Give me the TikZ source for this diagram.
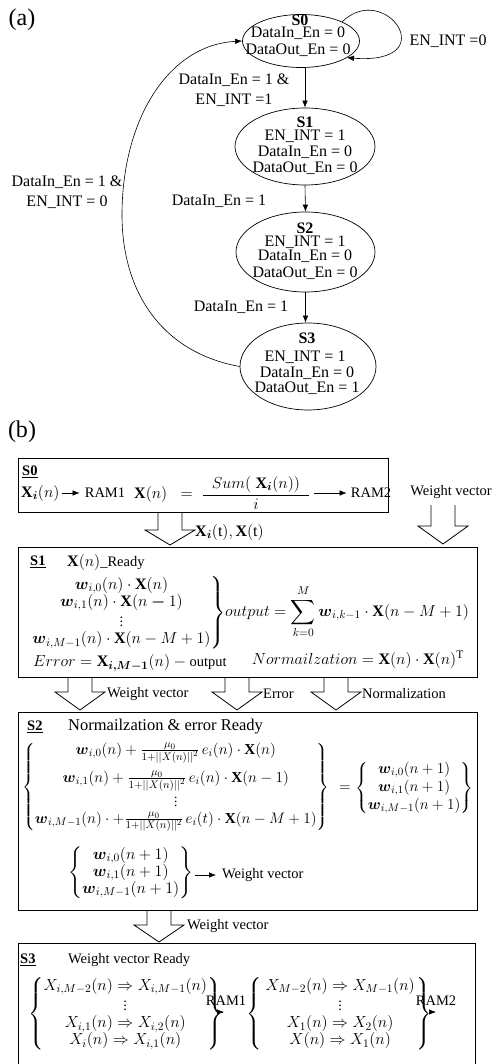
\RequirePackage{fix-cm}
\documentclass[tikz,border=0pt]{standalone}
\usepackage{amsmath}
\usepackage{fontspec}
\setmainfont{Liberation Serif}
\usetikzlibrary{shapes.geometric,arrows.meta,calc}
\DeclareMathSizes{14.5}{16}{11.5}{9}
\DeclareMathSizes{13.5}{15.2}{11}{8.5}
\newcommand{\blkarrow}[4]{\draw[line width=0.8pt] ({#1-12},#2) -- ({#1-12},#3) -- ({#1-25},#3) -- (#1,#4) -- ({#1+25},#3) -- ({#1+12},#3) -- ({#1+12},#2);}
\tikzset{
  ta/.style={font=\fontsize{16}{19}\selectfont, inner sep=0pt, text height=11pt, text depth=3pt},
  tatwo/.style={font=\fontsize{16}{20}\selectfont, inner sep=0pt, align=center},
  tb/.style={font=\fontsize{14.5}{17}\selectfont, inner sep=0pt},
  tbs/.style={font=\fontsize{13.5}{17}\selectfont, inner sep=0pt},
  state/.style={ellipse, draw, line width=0.7pt, inner sep=0pt},
  box/.style={draw, line width=0.8pt, inner sep=0pt},
  arr/.style={-{Latex[length=7pt,width=5.5pt]}, line width=0.6pt},
}
\begin{document}
\begin{tikzpicture}[x=1pt,y=-1pt]
\useasboundingbox (0,0) rectangle (499,1064);
% ---------------- (a)
\node[font=\fontsize{24}{28}\selectfont, inner sep=0pt] (la) at (22,20) {(a)};
\node[state, minimum width=117pt, minimum height=53pt] (s0) at (301,41) {};
\node[state, minimum width=140pt, minimum height=77pt] (s1) at (305,146.5) {};
\node[state, minimum width=139pt, minimum height=80pt] (s2) at (305.5,252) {};
\node[state, minimum width=136pt, minimum height=87pt] (s3) at (308,366.5) {};

\node[ta] (s0a) at (300,22) {\textbf{S0}};
\node[ta] (s0b) at (298,34) {DataIn\_En = 0};
\node[ta] (s0c) at (298,51) {DataOut\_En = 0};

\node[ta] (s1a) at (305,124) {\textbf{S1}};
\node[ta] (s1b) at (305,137) {EN\_INT = 1};
\node[ta] (s1c) at (305,153) {DataIn\_En = 0};
\node[ta] (s1d) at (305,169) {DataOut\_En = 0};

\node[ta] (s2a) at (305,230) {\textbf{S2}};
\node[ta] (s2b) at (305,243) {EN\_INT = 1};
\node[ta] (s2c) at (305,257) {DataIn\_En = 0};
\node[ta] (s2d) at (305,274) {DataOut\_En = 0};

\node[ta] (s3a) at (307,339) {\textbf{S3}};
\node[ta] (s3b) at (305,357) {EN\_INT = 1};
\node[ta] (s3c) at (307,373) {DataIn\_En = 0};
\node[ta] (s3d) at (307,388) {DataOut\_En = 1};

\draw[arr] (s1.north |- s0.south) -- (s1.north);
\draw[arr] (s1.south) -- (s2.north);
\draw[arr] (s2.south) -- (s2.south |- s3.north);
\draw[arr] (s3.west) .. controls (160,352) and (122,290) .. (122,215) .. controls (122,120) and (168,45) .. (s0.west);
\draw[arr] (s0.25) .. controls (385,-20) and (445,65) .. (s0.-20);

\node[tatwo] (l01) at (234,90) {DataIn\_En = 1 \&\\EN\_INT =1};
\node[ta] (l12) at (219,202) {DataIn\_En = 1};
\node[ta] (l23) at (241,307) {DataIn\_En = 1};
\node[tatwo] (l30) at (67,192) {DataIn\_En = 1 \&\\EN\_INT = 0};
\node[ta] (l00) at (448,42) {EN\_INT =0};

% ---------------- (b)
\node[font=\fontsize{24}{28}\selectfont, inner sep=0pt] (lb) at (22,432) {(b)};

\node[box, anchor=north west, minimum width=370pt, minimum height=54pt] (b0) at (18,458) {};
\node[box, anchor=north west, minimum width=459pt, minimum height=130pt] (b1) at (18,547) {};
\node[box, anchor=north west, minimum width=459pt, minimum height=198pt] (b2) at (18,712) {};
\node[box, anchor=north west, minimum width=457pt, minimum height=135pt] (b3) at (18,943) {};

% S0 box
\node[tb, anchor=west] (b0t) at (22,472) {\underline{\textbf{S0}}};
\node[tb, anchor=west] (xi) at (21,493) {$\mathbf{X}_{\boldsymbol{i}}(n)$};
\node[tb] (ram1) at (105,493) {RAM1};
\node[tb, anchor=west] (xeq) at (134,493) {$\mathbf{X}(n)\;\;=\;\dfrac{\hspace{9pt}Sum(\;\mathbf{X}_{\boldsymbol{i}}(n))\hspace{9pt}}{i}$};
\node[tb] (ram2) at (371,493) {RAM2};
\draw[arr, shorten <=2pt, shorten >=5pt] (xi) -- (ram1);
\draw[arr, shorten <=4pt, shorten >=4pt] (xeq) -- (ram2);
\node[tb] (wv0) at (451,492) {Weight vector};

\blkarrow{170}{512}{530}{545}
\node[tb, anchor=west] (xt) at (195,532) {$\mathbf{X}_{\boldsymbol{i}}(\mathrm{t}),\mathbf{X}(\mathrm{t})$};
\blkarrow{443}{505}{526}{544}

% S1 box
\node[tb, anchor=west] (b1t) at (30,562) {\underline{\textbf{S1}}};
\node[tb, anchor=west] (xr) at (67,562) {$\mathbf{X}(n)$\_Ready};
\node[tb, anchor=west] (s1m) at (31,613) {$\left.\begin{array}{@{}c@{}}
 \boldsymbol{w}_{i,0}(n)\cdot\mathbf{X}(n)\\
 \boldsymbol{w}_{i,1}(n)\cdot\mathbf{X}(n\boldsymbol{-}1)\\
 \vdots\\
 \boldsymbol{w}_{i,M-1}(n)\cdot\mathbf{X}(n-M+1)
 \end{array}\right\}$};
\node[tb, anchor=west] (outp) at (225,612) {$output = \displaystyle\sum_{k=0}^{M}\boldsymbol{w}_{i,k-1}\cdot\mathbf{X}(n-M+1)$};
\node[tb, anchor=west] (err) at (33,663) {$Error = \mathbf{X}_{\boldsymbol{i,M-1}}(n) - \text{output}$};
\node[tb, anchor=east] (nrm) at (464,660) {$Normailzation = \mathbf{X}(n)\cdot\mathbf{X}(n)^{\mathrm{T}}$};

\blkarrow{80}{677}{692}{710}
\blkarrow{237}{677}{692}{710}
\blkarrow{336}{677}{692}{710}
\node[tb, anchor=west] (lw1) at (107,694) {Weight vector};
\node[tb, anchor=west] (le1) at (263,694) {Error};
\node[tb, anchor=west] (ln1) at (362,694) {Normalization};

% S2 box
\node[tb, anchor=west] (b2t) at (27,727) {\underline{\textbf{S2}}};
\node[anchor=west, font=\fontsize{16.5}{20}\selectfont, inner sep=0pt] (nr) at (68,727) {Normailzation \& error Ready};
\node[tbs, anchor=west] (s2m) at (22,787) {$\left\{\begin{array}{@{}c@{}}
 \boldsymbol{w}_{i,0}(n)+\frac{\mu_0}{1+||X(n)||^2}\,e_i(n)\cdot\mathbf{X}(n)\\[11pt]
 \boldsymbol{w}_{i,1}(n)+\frac{\mu_0}{1+||X(n)||^2}\,e_i(n)\cdot\mathbf{X}(n-1)\\[3pt]
 \vdots\\
 \boldsymbol{w}_{i,M-1}(n)\cdot+\frac{\mu_0}{1+||X(n)||^2}\,e_i(t)\cdot\mathbf{X}(n-M+1)
 \end{array}\right\}$};
\node[tbs, anchor=west] (s2r) at (339,788) {$=\left\{\begin{array}{@{}c@{}}
 \boldsymbol{w}_{i,0}(n+1)\\[1pt]
 \boldsymbol{w}_{i,1}(n+1)\\[1pt]
 \boldsymbol{w}_{i,M-1}(n+1)
 \end{array}\right\}$};
\node[tb, anchor=west] (s2w) at (68,873) {$\left\{\begin{array}{@{}c@{}}
 \boldsymbol{w}_{i,0}(n+1)\\
 \boldsymbol{w}_{i,1}(n+1)\\
 \boldsymbol{w}_{i,M-1}(n+1)
 \end{array}\right\}$};
\node[tb, anchor=west] (wv2) at (222,875) {Weight vector};
\draw[arr, shorten <=2pt, shorten >=6pt] (s2w.east |- wv2.west) -- (wv2.west);

\blkarrow{159}{910}{925}{942}
\node[tb, anchor=west] (lw2) at (187,926) {Weight vector};

% S3 box
\node[tb, anchor=west] (b3t) at (20,960) {\underline{\textbf{S3}}};
\node[tb, anchor=west] (wvr) at (68,960) {Weight vector Ready};
\node[tb, anchor=west] (g1) at (28,1014) {$\left\{\begin{array}{@{}c@{}}
 X_{i,M-2}(n)\Rightarrow X_{i,M-1}(n)\\
 \vdots\\
 X_{i,1}(n)\Rightarrow X_{i,2}(n)\\
 X_i(n)\Rightarrow X_{i,1}(n)
 \end{array}\right\}$};
\coordinate (a1) at (224,1012);
\draw[arr] (g1.east |- a1) -- (a1);
\node[tb] (r1) at (226,1001) {RAM1};
\node[tb, anchor=west] (g2) at (246,1014) {$\left\{\hspace{4pt}\begin{array}{@{}c@{}}
 X_{M-2}(n)\Rightarrow X_{M-1}(n)\\
 \vdots\\
 X_{1}(n)\Rightarrow X_{2}(n)\\
 X(n)\Rightarrow X_{1}(n)
 \end{array}\hspace{2pt}\right\}$};
\coordinate (a2) at (436,1012);
\draw[arr] (g2.east |- a2) -- (a2);
\node[tb] (r2) at (436,1001) {RAM2};
\end{tikzpicture}
\end{document}
